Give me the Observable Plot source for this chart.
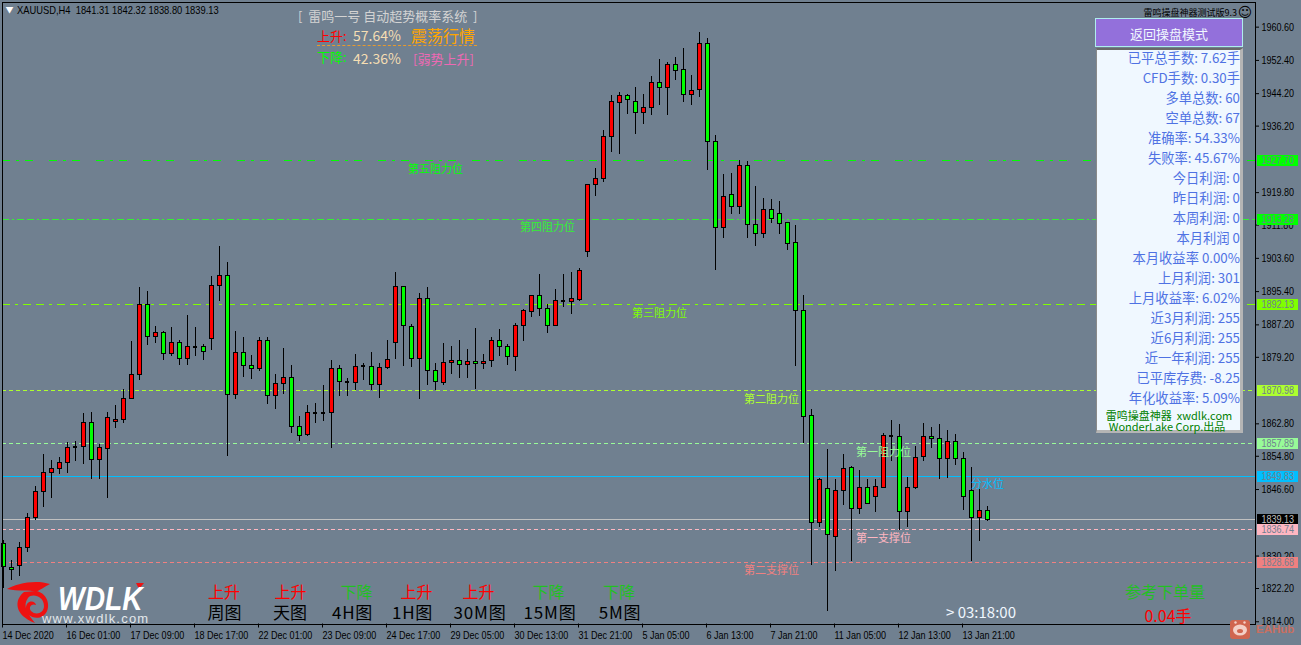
<!DOCTYPE html>
<html><head><meta charset="utf-8">
<script src="https://cdn.jsdelivr.net/npm/d3@7"></script>
<script src="https://cdn.jsdelivr.net/npm/@observablehq/plot@0.6"></script>
<style>
html,body{margin:0;padding:0;background:#708090;overflow:hidden}
#wrap{position:relative;width:1301px;height:645px;overflow:hidden}
#wrap svg.plot{display:block}
.t{position:absolute;white-space:pre;line-height:1;font-family:"Noto Sans CJK SC","Noto Sans",sans-serif}
</style></head><body><div id="wrap"></div>
<script>
const openPrices=[1833.1,1827.3,1827.7,1832.1,1839.7,1845.9,1850.8,1851.7,1853.2,1857.0,
1857.1,1863.0,1853.9,1856.6,1863.3,1863.8,1869.0,1874.9,1892.1,1884.1,
1885.3,1879.9,1882.7,1878.9,1881.7,1881.7,1883.8,1896.9,1899.3,1870.0,
1880.3,1877.0,1876.2,1883.2,1869.7,1872.7,1874.1,1862.1,1860.0,1865.4,
1865.4,1865.5,1876.2,1873.1,1872.9,1877.0,1876.9,1872.4,1876.6,1882.8,
1896.6,1886.7,1878.9,1893.6,1875.8,1872.8,1877.8,1878.3,1877.3,1878.1,
1877.5,1878.4,1883.1,1881.7,1879.4,1886.9,1890.4,1894.2,1891.0,1887.0,
1893.0,1892.9,1893.4,1905.1,1921.6,1923.1,1933.5,1941.9,1943.6,1942.2,
1939.4,1940.7,1946.9,1945.5,1951.3,1950.0,1943.9,1945.1,1956.5,1932.2,
1911.2,1919.2,1916.2,1926.3,1911.9,1909.7,1915.5,1914.5,1912.2,1907.3,
1890.6,1864.8,1838.3,1846.7,1835.0,1846.2,1851.9,1841.9,1847.0,1844.7,
1847.1,1859.7,1859.6,1841.0,1846.9,1854.6,1859.6,1859.0,1854.2,1858.3,
1854.2,1846.2,1839.6,1841.31];
const highPrices=[1834.0,1829.2,1833.5,1840.6,1847.3,1855.2,1853.7,1854.4,1858.2,1858.4,
1865.3,1865.6,1857.7,1865.6,1867.3,1871.3,1883.1,1896.3,1895.5,1886.9,
1885.5,1886.5,1883.4,1889.6,1886.5,1882.4,1899.2,1906.6,1902.6,1885.5,
1884.1,1879.6,1884.1,1884.1,1874.9,1881.4,1877.1,1864.6,1867.3,1867.8,
1872.3,1878.4,1877.2,1873.9,1879.9,1877.6,1880.4,1877.6,1883.4,1900.2,
1896.6,1887.4,1894.9,1896.5,1877.6,1882.6,1881.9,1883.4,1881.2,1886.4,
1879.9,1884.1,1886.1,1882.4,1887.6,1891.1,1894.5,1899.7,1892.3,1896.0,
1899.7,1900.2,1901.0,1921.6,1925.7,1935.0,1943.7,1944.4,1944.1,1945.6,
1944.0,1948.4,1952.6,1952.0,1953.1,1955.3,1948.7,1959.2,1957.8,1933.8,
1924.2,1924.6,1927.7,1927.4,1921.2,1918.3,1918.0,1917.5,1912.2,1911.6,
1894.5,1866.3,1849.2,1856.4,1849.0,1855.2,1852.2,1851.4,1849.0,1849.0,
1860.3,1863.6,1862.6,1849.5,1857.2,1862.8,1861.9,1862.6,1861.1,1860.2,
1855.7,1852.0,1846.7,1842.32];
const lowPrices=[1822.1,1824.1,1825.1,1831.1,1838.9,1842.2,1844.5,1850.3,1850.6,1853.6,
1852.8,1849.1,1849.1,1844.5,1861.7,1863.0,1868.9,1873.6,1882.2,1882.7,
1878.3,1879.3,1877.3,1877.3,1879.3,1878.3,1880.9,1893.0,1854.8,1868.9,
1874.3,1873.8,1875.6,1867.6,1866.4,1870.0,1860.5,1858.5,1859.7,1863.0,
1863.4,1856.8,1869.6,1869.6,1870.9,1873.5,1871.0,1869.1,1876.2,1878.6,
1877.0,1876.8,1868.9,1872.3,1871.0,1872.3,1875.0,1874.0,1874.0,1871.3,
1876.2,1876.7,1879.4,1877.2,1875.7,1883.1,1889.1,1889.3,1885.1,1886.9,
1891.6,1889.8,1893.0,1903.7,1918.8,1922.2,1929.6,1929.1,1939.0,1934.1,
1936.5,1938.8,1941.2,1938.8,1947.4,1942.0,1941.2,1943.2,1925.2,1900.5,
1908.4,1914.5,1914.5,1908.6,1906.6,1908.4,1912.3,1909.6,1905.6,1877.0,
1858.0,1827.8,1837.2,1816.6,1826.5,1842.6,1828.8,1840.4,1843.0,1840.9,
1846.9,1853.5,1836.6,1837.2,1846.6,1853.5,1856.7,1849.0,1849.3,1852.5,
1841.4,1828.8,1833.7,1838.80];
const closePrices=[1827.5,1826.7,1832.1,1839.7,1845.9,1850.8,1851.7,1853.2,1856.9,1857.0,
1863.0,1853.9,1856.9,1864.3,1863.8,1868.9,1874.8,1892.1,1884.1,1885.2,
1879.9,1882.7,1878.9,1881.7,1881.7,1880.4,1896.8,1899.3,1870.0,1880.3,
1877.1,1876.4,1883.2,1869.7,1872.6,1874.2,1862.1,1859.8,1865.4,1865.4,
1865.4,1876.2,1873.2,1873.1,1876.8,1877.0,1872.4,1876.6,1878.6,1896.6,
1886.8,1878.9,1893.6,1875.9,1873.1,1877.8,1878.4,1877.4,1878.1,1877.5,
1878.1,1883.1,1881.8,1879.4,1887.0,1890.5,1894.2,1891.0,1887.0,1893.0,
1893.0,1893.5,1900.4,1921.6,1923.1,1933.5,1942.2,1943.6,1942.6,1939.4,
1940.6,1946.9,1945.6,1951.3,1949.8,1943.9,1944.9,1956.5,1932.2,1911.2,
1918.7,1916.2,1926.3,1911.9,1909.7,1915.5,1913.4,1912.1,1907.2,1890.6,
1864.5,1838.3,1849.0,1835.4,1846.2,1851.7,1841.9,1847.0,1843.0,1847.2,
1859.8,1859.7,1841.0,1847.0,1854.4,1859.6,1859.1,1854.2,1858.3,1854.2,
1844.8,1839.6,1841.3,1839.13];

const priceTicks=[1960.6,1952.4,1944.2,1936.2,1919.8,1911.8,1903.6,1895.4,1887.2,1879.2,1862.8,1854.8,1846.6,1830.2,1822.2,1814.0];
const timeLabels=["14 Dec 2020","16 Dec 01:00","17 Dec 09:00","18 Dec 17:00","22 Dec 01:00","23 Dec 09:00","24 Dec 17:00","29 Dec 05:00","30 Dec 13:00","31 Dec 21:00","5 Jan 05:00","6 Jan 13:00","7 Jan 21:00","11 Jan 05:00","12 Jan 13:00","13 Jan 21:00"];

const levelValues=[1927.70,1913.28,1892.13,1870.98,1857.89,1849.83,1839.13,1836.74,1828.68];
const levelColors=["#00ff00","#33f033","#7fff00","#adff2f","#98fb98","#00bfff","#c0c0c0","#ffb6c1","#f08080"];
const levelDashes=["8 6 3 6 8 16","7 3 2 3 7 3","8 5 3 5 8 5","4 3","4 3","none","none","4 3","4 3"];
const levelNames=["第五阻力位","第四阻力位","第三阻力位","第二阻力位","第一阻力位","分水位","","第一支撑位","第二支撑位"];
const levelNameBars=[54,68,82,96,110,123,null,110,96];
const tagFills=["#00ff00","#00ff00","#7fff00","#adff2f","#98fb98","#00bfff","#000000","#ffb6c1","#f08080"];
const tagInks=["#708090","#708090","#708090","#708090","#708090","#708090","#c0c0c0","#708090","#708090"];

const panelRows=["已平总手数: 7.62手","CFD手数: 0.30手","多单总数: 60","空单总数: 67","准确率: 54.33%","失败率: 45.67%","今日利润: 0","昨日利润: 0","本周利润: 0","本月利润 0","本月收益率 0.00%","上月利润: 301","上月收益率: 6.02%","近3月利润: 255","近6月利润: 255","近一年利润: 255","已平库存费: -8.25","年化收益率: 5.09%"];
const frames=["周图","天图","4H图","1H图","30M图","15M图","5M图"];
const frameTrends=["上升","上升","下降","上升","上升","下降","下降"];
const frameCenters=[224.5,290,352.5,412.5,480,550,620];
const trendCenters=[224,290.5,356.5,416.5,478.5,548.5,619];

const candles=openPrices.map((open,i)=>({i,open,high:highPrices[i],low:lowPrices[i],close:closePrices[i]}));
const up=candles.filter(d=>d.close>d.open), down=candles.filter(d=>d.close<d.open), flat=candles.filter(d=>d.close===d.open);
const levels=levelValues.map((value,k)=>({value,color:levelColors[k],dash:levelDashes[k],name:levelNames[k],bar:levelNameBars[k],tag:tagFills[k],ink:tagInks[k]}));
const cjk='"Noto Sans CJK SC",sans-serif', sans='"Liberation Sans",sans-serif';
const crisp={shapeRendering:"crispEdges"};
const bodyMark=(rows,fill)=>Plot.rect(rows,{x1:d=>d.i-0.25,x2:d=>d.i+0.25,y1:"open",y2:"close",fill,stroke:"black",strokeWidth:1,...crisp});

const chart=Plot.plot({
  width:1301,height:645,marginLeft:2,marginRight:46,marginTop:1.5,marginBottom:21.5,
  style:{background:"#708090",color:"black",fontFamily:sans,fontSize:"11px"},
  x:{type:"linear",domain:[-0.125,156.5],axis:null},
  y:{type:"linear",domain:[1813.45,1966.80],axis:null},
  marks:[
    ...levels.map(l=>Plot.ruleY([l],{y:"value",stroke:l.color,strokeWidth:1,strokeDasharray:l.dash,...crisp})),
    Plot.ruleX(candles,{x:"i",y1:"low",y2:"high",stroke:"black",strokeWidth:1,...crisp}),
    bodyMark(up,"#ff0000"),
    bodyMark(down,"#00ff00"),
    Plot.ruleY(flat,{y:"open",x1:d=>d.i-0.31,x2:d=>d.i+0.31,stroke:"black",strokeWidth:2,...crisp}),
    Plot.frame({stroke:"black",strokeWidth:1,...crisp}),
    Plot.axisY(priceTicks,{anchor:"right",label:null,tickSize:3,tickPadding:3,tickFormat:d=>d.toFixed(2),fontSize:11,fontFamily:sans}),
    Plot.axisX(d3.range(0,128,8),{anchor:"bottom",label:null,tickSize:4,tickPadding:3,textAnchor:"start",dx:-1,tickFormat:i=>timeLabels[i/8],fontSize:11,fontFamily:sans}),
    Plot.ruleY(levels,{y:"value",x1:()=>156.75,x2:()=>161.875,stroke:"tag",strokeWidth:11,...crisp}),
    Plot.text(levels,{y:"value",x:()=>157.25,text:d=>d.value.toFixed(2),fill:"ink",textAnchor:"start",fontSize:11,fontFamily:sans,className:"tagtext"}),
    Plot.text(levels.filter(d=>d.name),{x:"bar",y:"value",text:"name",fill:"color",dy:8.5,fontSize:11,fontFamily:cjk})
  ]
});
const wrap=document.getElementById("wrap");
wrap.appendChild(chart);
// MT4's axis face is narrower than anything installed: condense the glyphs
chart.querySelectorAll('g[aria-label*="tick label"] text, .tagtext text, text.tagtext').forEach(t=>{
  t.setAttribute("textLength",(t.getComputedTextLength()*0.82).toFixed(1));
  t.setAttribute("lengthAdjust","spacingAndGlyphs");
});

function put(text,x,y,size,color,align="left",extra=""){
  const e=document.createElement("div");e.className="t";e.textContent=text;
  const tx=align==="center"?"-50%":align==="right"?"-100%":"0";
  e.style.cssText=`left:${x}px;top:${y}px;font-size:${size}px;color:${color};transform:translate(${tx},-50%);${extra}`;
  wrap.appendChild(e);return e;
}
function box(x,y,w,h,css){const e=document.createElement("div");e.style.cssText=`position:absolute;left:${x}px;top:${y}px;width:${w}px;height:${h}px;box-sizing:border-box;${css}`;wrap.appendChild(e);}

// header
put("▼",5.5,10,8,"#fff");
put("XAUUSD,H4  1841.31 1842.32 1838.80 1839.13",17,10,11,"#000","left",`font-family:${sans};transform:translate(0,-50%) scaleX(.85);transform-origin:left center`);
put("[  雷鸣一号 自动超势概率系统  ]",298,15,13,"#d3d3d3");
put("上升:",317,35,13,"#ff0000");
put("57.64%",353,35,14,"#f5deb3");
put("震荡行情",411,35,16,"#ffa500");
box(317,45,160,1,"border-top:1px dashed #e89a2c");
put("下降:",317,56,13,"#00ff00");
put("42.36%",353,58,14,"#f5deb3");
put("[弱势上升]",413,58,13,"#ee69b4");

// right-hand panel
put("雷鸣操盘神器测试版9.3",1237,11.5,9,"#000","right");
put("☺",1245,12,14,"#000","center","font-family:'DejaVu Sans'");
box(1095,18,148,29,"background:#9370db;border:1px solid #afeeee");
put("返回操盘模式",1169,33,13,"#f0f8ff","center");
box(1096,48,147,385,"background:#f0f8ff;border-top:2px solid #696969;border-left:1px solid #8a8a8a;border-right:3px solid #b5b5b5;border-bottom:3px solid #b5b5b5");
panelRows.forEach((r,k)=>put(r,1240,57.5+20*k,13.3,"#4f72e3","right"));
put("雷鸣操盘神器  xwdlk.com",1169,414.5,11,"#008000","center");
put("WonderLake Corp.出品",1167,426,11,"#008000","center");

// timeframe strip
frames.forEach((f,k)=>{
  put(frameTrends[k],trendCenters[k],591,16,frameTrends[k]==="上升"?"#ff0000":"#22c022","center");
  put(f,frameCenters[k],611,17,"#000","center",/[A-Z]/.test(f)?"letter-spacing:.8px":"");
});
put("> 03:18:00",946,611,15,"#f0f8ff");
put("参考下单量",1165,591,16,"#22c022","center");
put("0.04手",1168,615,16,"#ff0000","center");

// WDLK logo and EAHub mark
const ns="http://www.w3.org/2000/svg";
const art=document.createElementNS(ns,"svg");
art.setAttribute("width",1301);art.setAttribute("height",645);
art.style.cssText="position:absolute;left:0;top:0;pointer-events:none";
art.innerHTML=`
<path fill="#ee1111" d="M7 589C15 584 35 579 50 584C44 587 40 590 36 592C30 589 18 592 7 589Z"/>
<path fill="#ee1111" d="M24 592C14 600 14 615 35 623C28 614 22 606 28 598C32 593 44 596 44 606C44 613 36 616 31 611C28 607 32 603 36 605C35 600 27 600 26 607C25 615 35 621 43 616C52 610 49 593 36 591Z"/>
<path fill="#ee1111" d="M136 583L144 583L139 589Z"/>
<rect x="1230" y="620" width="20" height="19" rx="3" fill="#d0654f"/>
<ellipse cx="1240" cy="630" rx="7" ry="5.5" fill="#f3cfc6"/>
<circle cx="1235.5" cy="622.5" r="1.2" fill="#f3cfc6"/><circle cx="1244.5" cy="622.5" r="1.2" fill="#f3cfc6"/>
<ellipse cx="1240" cy="631" rx="3" ry="2" fill="#d0654f"/>`;
wrap.appendChild(art);
put("WDLK",58,598,34,"#fff","left","font-family:'Liberation Sans';font-weight:bold;font-style:italic;transform:translate(0,-50%) scaleX(.83);transform-origin:left center");
put("www.xwdlk.com",42,618,13,"#e4e8ec","left","font-family:'Liberation Sans';letter-spacing:1.2px");
put("EAHub",1256,630,11.5,"#c96f60","left","font-family:'Liberation Sans';font-weight:bold");
</script></body></html>
